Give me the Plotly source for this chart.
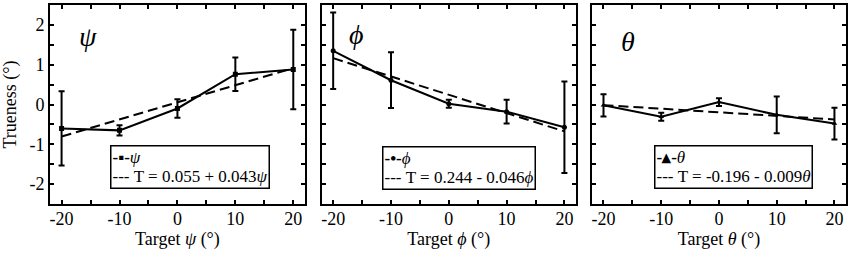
import plotly.graph_objects as go

targets = [-20, -10, 0, 10, 20]
x_ticktext = ["-20", "-10", "0", "10", "20"]
y_tickvals = [-2, -1, 0, 1, 2]
y_ticktext = ["-2", "-1", "0", "1", "2"]

psi_mean = [-0.60, -0.65, -0.10, 0.76, 0.88]
psi_err = [0.93, 0.13, 0.23, 0.42, 1.00]
phi_mean = [1.35, 0.61, 0.02, -0.18, -0.57]
phi_err = [0.96, 0.70, 0.10, 0.30, 1.15]
theta_mean = [-0.02, -0.31, 0.06, -0.26, -0.48]
theta_err = [0.28, 0.10, 0.10, 0.46, 0.40]

fit_x = [-20, 20]
psi_fit = (0.055, 0.043)
phi_fit = (0.244, -0.046)
theta_fit = (-0.196, -0.009)

symbols = ["ψ", "ϕ", "θ"]
legend_line1 = ["<b>-▪-</b><i>ψ</i>", "<b>-•-</b><i>ϕ</i>", "<b>-▴-</b><i>θ</i>"]
legend_line2 = ["--- T = 0.055 + 0.043<i>ψ</i>", "--- T = 0.244 - 0.046<i>ϕ</i>", "--- T = -0.196 - 0.009<i>θ</i>"]
markers = ["square", "circle", "triangle-up"]

FONT = '"Liberation Serif", "Times New Roman", Times, serif'

W, H = 851, 256
ml, mr, mt, mb = 50, 3, 3, 52
pw = W - ml - mr

panel_px = [(50.5, 305.5), (322.3, 577.3), (593.3, 848.3)]
domains = [[(a - ml) / pw, (b - ml) / pw] for a, b in panel_px]
domains[0][0] = 0.0
domains[2][1] = 1.0

# legend anchor (left, bottom) in axis-domain fractions
legend_anchor = [(0.237, 0.075), (0.239, 0.068), (0.245, 0.075)]

fig = go.Figure()

series = [(psi_mean, psi_err, psi_fit), (phi_mean, phi_err, phi_fit), (theta_mean, theta_err, theta_fit)]
for i, (mean, err, fit) in enumerate(series):
    xa = "x" if i == 0 else f"x{i+1}"
    ya = "y" if i == 0 else f"y{i+1}"
    fig.add_trace(go.Scatter(
        x=targets, y=mean, xaxis=xa, yaxis=ya,
        mode="lines+markers", name=symbols[i], showlegend=False,
        line=dict(color="black", width=2),
        marker=dict(symbol=markers[i], size=5, color="black"),
        error_y=dict(type="data", array=err, visible=True, color="black", thickness=2, width=3),
    ))
    fy = [fit[0] + fit[1] * v for v in fit_x]
    fig.add_trace(go.Scatter(
        x=fit_x, y=fy, xaxis=xa, yaxis=ya,
        mode="lines", name="fit", showlegend=False,
        line=dict(color="black", width=2, dash="10px,5px"),
    ))

layout = dict(
    width=W, height=H,
    margin=dict(l=ml, r=mr, t=mt, b=mb),
    plot_bgcolor="white", paper_bgcolor="white",
    font=dict(family=FONT, size=18, color="black"),
    showlegend=False,
)

for i in range(3):
    sx = "" if i == 0 else str(i + 1)
    layout[f"xaxis{sx}"] = dict(
        domain=domains[i], range=[-22, 22], anchor=f"y{sx}",
        tickvals=targets, ticktext=x_ticktext,
        ticks="inside", ticklen=4, tickwidth=1.5, tickcolor="black",
        minor=dict(dtick=5, tick0=0, ticks="inside", ticklen=4, tickwidth=1.5, tickcolor="black"),
        showline=True, linecolor="black", linewidth=2, mirror="allticks",
        showgrid=False, zeroline=False, ticklabelstandoff=-3,
        tickfont=dict(size=18, family=FONT),
        title=dict(text=f"Target <i>{symbols[i]}</i> (°)", font=dict(size=18, family=FONT), standoff=0),
    )
    layout[f"yaxis{sx}"] = dict(
        domain=[0, 1], range=[-2.5, 2.5], anchor=f"x{sx}",
        tickvals=y_tickvals, ticktext=y_ticktext,
        ticks="inside", ticklen=4, tickwidth=1.5, tickcolor="black",
        minor=dict(dtick=0.5, tick0=0, ticks="inside", ticklen=4, tickwidth=1.5, tickcolor="black"),
        showline=True, linecolor="black", linewidth=2, mirror="allticks",
        showgrid=False, zeroline=False, showticklabels=(i == 0),
        tickfont=dict(size=18, family=FONT),
    )

layout["yaxis"]["title"] = dict(text="Trueness (°)", font=dict(size=18, family=FONT), standoff=8)

fig.update_layout(**layout)

big = '<span style="font-size:17px">{}</span>'
label_pos = [(0.104, 0.93), (0.10, 0.94), (0.105, 0.905)]
for i in range(3):
    sx = "" if i == 0 else str(i + 1)
    xr, yr = f"x{sx} domain", f"y{sx} domain"
    fig.add_annotation(
        text=f"<i>{symbols[i]}</i>", xref=xr, yref=yr,
        x=label_pos[i][0], y=label_pos[i][1], showarrow=False,
        font=dict(size=28, family=FONT, color="black"),
    )
    lx, ly = legend_anchor[i]
    fig.add_annotation(
        text=big.format(legend_line1[i]) + "<br>" + big.format(legend_line2[i]),
        xref=xr, yref=yr, x=lx, y=ly, xanchor="left", yanchor="bottom", align="left",
        showarrow=False, borderpad=1, bordercolor="black", borderwidth=1.5, bgcolor="white",
        font=dict(size=15, family=FONT, color="black"),
    )

fig.write_html("out.html", config={"displayModeBar": False},
               post_script="document.body.style.margin='0';document.body.style.overflow='hidden';")
